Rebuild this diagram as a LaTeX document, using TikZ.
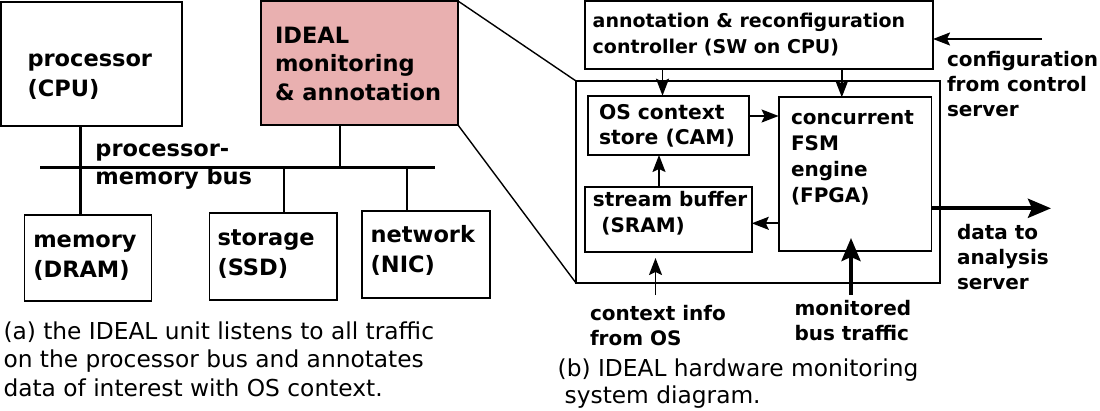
\documentclass[tikz,border=0pt]{standalone}
\usepackage{fontspec}
\setmainfont{DejaVu Sans}
\usetikzlibrary{arrows.meta}
\definecolor{idealpink}{RGB}{233,176,176}
\begin{document}
\begin{tikzpicture}[x=1pt,y=-1pt,
  box/.style={draw=black,line width=1.8pt,inner sep=0pt,outer sep=0pt,anchor=north west},
  lbl/.style={inner sep=0pt,outer sep=0pt,anchor=base west,align=left,font=\fontsize{22.5}{29.5}\selectfont\bfseries},
  slbl/.style={inner sep=0pt,outer sep=0pt,anchor=base west,align=left,font=\fontsize{20}{25}\selectfont\bfseries},
  captxt/.style={inner sep=0pt,outer sep=0pt,anchor=base west,align=left},
  wire/.style={line width=2.5pt},
  busline/.style={line width=3pt},
  zoomline/.style={line width=1.4pt},
  thinarr/.style={line width=1.7pt,-{Stealth[length=17pt,width=13pt,inset=3pt]}},
  thickarr/.style={line width=4pt,-{Stealth[length=23pt,width=19pt,inset=4pt]}},
]
\useasboundingbox (0,0) rectangle (1100,410);

% ---------- left part ----------
\node[box,minimum width=181pt,minimum height=124pt] (cpu) at (1,2) {};
\node[box,fill=idealpink,minimum width=197pt,minimum height=124pt] (ideal) at (261,1) {};
\node[box,minimum width=127pt,minimum height=86pt] (mem) at (24.5,215) {};
\node[box,minimum width=127.3pt,minimum height=87pt] (stor) at (209.4,213) {};
\node[box,minimum width=127.3pt,minimum height=87pt] (nic) at (362.3,211) {};

% (multi-line nodes: base anchor = baseline of last line)
\node[lbl] (cpulbl) at (27.5,96) {processor\\(CPU)};
\node[lbl,font=\fontsize{22.5}{28.5}\selectfont\bfseries] (ideallbl) at (275,100) {IDEAL\\monitoring\\\& annotation};
\node[lbl,font=\fontsize{22.5}{30}\selectfont\bfseries] (memlbl) at (33.3,277) {memory\\(DRAM)};
\node[lbl,font=\fontsize{22.5}{30}\selectfont\bfseries] (storlbl) at (217.5,275) {storage\\(SSD)};
\node[lbl,font=\fontsize{22.5}{30}\selectfont\bfseries] (niclbl) at (370.7,272.7) {network\\(NIC)};
\node[lbl,font=\fontsize{22.5}{28}\selectfont\bfseries] (buslbl) at (95.4,184) {processor-\\memory bus};

\coordinate (busL) at (40,167);
\coordinate (busR) at (435,167);
\draw[busline] (busL) -- (busR);
\draw[wire] (80.3,0 |- cpu.south) -- (80.3,0 |- mem.north);
\draw[wire] (340,0 |- ideal.south) -- (340,0 |- busL);
\draw[wire] (284,0 |- busL) -- (284,0 |- stor.north);
\draw[wire] (407,0 |- busL) -- (407,0 |- nic.north);

\node[captxt,font=\fontsize{23.3}{28.3}\selectfont] (capa) at (3.5,396)
  {(a) the IDEAL unit listens to all traffic\\on the processor bus and annotates\\data of interest with OS context.};

% ---------- right part ----------
\node[box,minimum width=348.3pt,minimum height=68pt] (annot) at (584.7,1) {};
\node[box,minimum width=364pt,minimum height=202pt] (outer) at (576,81) {};
\node[box,minimum width=161.1pt,minimum height=59.3pt] (os) at (588.2,95.7) {};
\node[box,minimum width=167.2pt,minimum height=65pt] (sbuf) at (584.6,186.7) {};
\node[box,minimum width=152.8pt,minimum height=153.4pt] (fsm) at (778.6,97.3) {};

\draw[zoomline] (ideal.north east) -- (outer.north west);
\draw[zoomline] (ideal.south east) -- (outer.south west);

\node[slbl,font=\fontsize{19}{26}\selectfont\bfseries] (annotlbl) at (592.7,53.3) {annotation \& reconfiguration\\controller (SW on CPU)};
\node[slbl,font=\fontsize{20.3}{24.7}\selectfont\bfseries] (oslbl) at (599,144) {OS context\\store (CAM)};
\node[slbl,font=\fontsize{20}{26}\selectfont\bfseries] (sbuflbl) at (592.9,232.7) {stream buffer\\\hspace*{8.5pt}(SRAM)};
\node[slbl,font=\fontsize{20}{26}\selectfont\bfseries] (fsmlbl) at (791,202) {concurrent\\FSM\\engine\\(FPGA)};
\node[slbl] (cfglbl) at (947,116) {configuration\\from control\\server};
\node[slbl] (datalbl) at (957,289.3) {data to\\analysis\\server};
\node[slbl] (ctxlbl) at (590,345) {context info\\from OS};
\node[slbl] (monlbl) at (794.5,340) {monitored\\bus traffic};

\node[captxt,font=\fontsize{23.3}{26.7}\selectfont] (capb) at (557.7,403.3)
  {(b) IDEAL hardware monitoring\\\hspace*{7pt}system diagram.};

% arrows
\draw[thinarr] (662.5,0 |- annot.south) -- (662.5,0 |- os.north);
\draw[thinarr] (841.8,0 |- annot.south) -- (841.8,0 |- fsm.north);
\draw[thinarr] (os.east |- 0,116) -- (fsm.west |- 0,116);
\draw[thinarr] (659,0 |- sbuf.north) -- (659,0 |- os.south);
\draw[thinarr] (fsm.west |- 0,223.3) -- (sbuf.east |- 0,223.3);

\coordinate (cfgstart) at (1042,39);
\draw[thinarr] (cfgstart) -- (annot.east |- cfgstart);

\coordinate (dataend) at (1051,208.3);
\draw[thickarr] (fsm.east |- dataend) -- (dataend);

\coordinate (monstart) at (851,295);
\coordinate (montip) at (851,238);
\draw[thickarr] (monstart) -- (montip);

\coordinate (ctxstart) at (655.5,295);
\coordinate (ctxtip) at (655.5,258);
\draw[thinarr] (ctxstart) -- (ctxtip);

\end{tikzpicture}
\end{document}
